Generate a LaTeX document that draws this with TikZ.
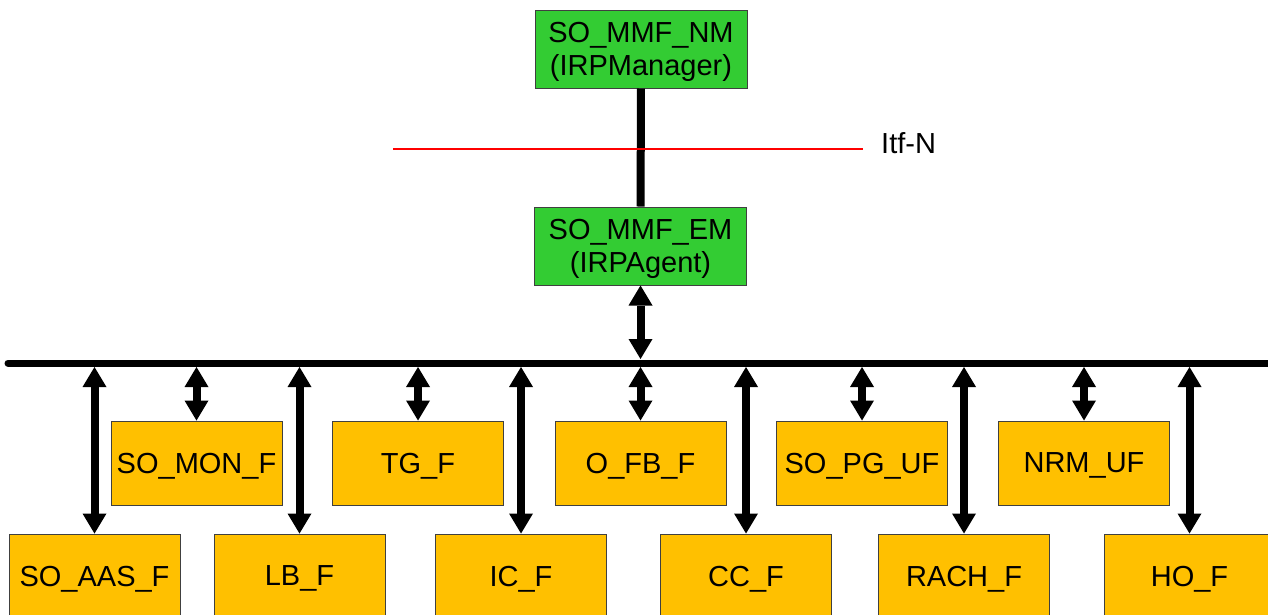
\documentclass[tikz,border=0pt]{standalone}
\usepackage{fontspec}
\setmainfont{Liberation Sans}
\usepackage{tikz}
\usetikzlibrary{arrows.meta, positioning}
\usepackage{xcolor}
\definecolor{irpgreen}{HTML}{33CC33}
\definecolor{funcorange}{HTML}{FFC000}

\begin{document}
\begin{tikzpicture}[x=1pt, y=-1pt, font=\fontsize{29}{33}\selectfont,
    irp/.style={rectangle, draw=black!75, line width=1pt, fill=irpgreen, minimum width=212pt, minimum height=78pt, inner sep=0pt, text depth=0pt, align=center},
    func/.style={rectangle, draw=black!75, line width=1pt, fill=funcorange, minimum width=171pt, minimum height=84pt, inner sep=0pt, text depth=0pt},
    tip/.tip={Triangle[length=20pt, width=24pt, line width=0pt]},
    biarrow/.style={line width=8pt, tip-tip}]
    \useasboundingbox (0,0) rectangle (1268,614);

    \node (NM) [irp] at (641,49) {SO\_MMF\_NM\\(IRPManager)};
    \node (EM) [irp] at (640.5,246) {SO\_MMF\_EM\\(IRPAgent)};
    \draw [line width=8pt] (NM) -- (EM);

    % Itf-N
    \coordinate (itfL) at (393,149);
    \coordinate (itfR) at (863,149);
    \draw [red, line width=2pt] (itfL) -- (itfR);
    \node (itf) [anchor=west, inner sep=0pt, text depth=0pt] at (881,143.5) {Itf-N};

    % bus
    \coordinate (busL) at (8,363);
    \coordinate (busR) at (1268,363);
    \coordinate (busT) at (640,359);
    \coordinate (busB) at (640,367);
    \draw [line width=7pt, line cap=round] (busL) -- (busR);
    \draw [biarrow] (EM.south) -- (EM.south |- busT);

    % upper row
    \node (MON) [func] at (196.5,463) {SO\_MON\_F};
    \node (TG) [func] at (418,463) {TG\_F};
    \node (OFB) [func] at (640.5,463) {O\_FB\_F};
    \node (PG) [func] at (862,463) {SO\_PG\_UF};
    \node (NRM) [func] at (1084,463) {NRM\_UF};

    % lower row
    \node (AAS) [func] at (94.5,576) {SO\_AAS\_F};
    \node (LB) [func] at (299.5,576) {LB\_F};
    \node (IC) [func] at (521,576) {IC\_F};
    \node (CC) [func] at (746,576) {CC\_F};
    \node (RACH) [func] at (964,576) {RACH\_F};
    \node (HO) [func] at (1189.5,576) {HO\_F};

    \draw [biarrow] (MON.north |- busB) -- (MON.north);
    \draw [biarrow] (TG.north |- busB) -- (TG.north);
    \draw [biarrow] (OFB.north |- busB) -- (OFB.north);
    \draw [biarrow] (PG.north |- busB) -- (PG.north);
    \draw [biarrow] (NRM.north |- busB) -- (NRM.north);

    \draw [biarrow] (AAS.north |- busB) -- (AAS.north);
    \draw [biarrow] (LB.north |- busB) -- (LB.north);
    \draw [biarrow] (IC.north |- busB) -- (IC.north);
    \draw [biarrow] (CC.north |- busB) -- (CC.north);
    \draw [biarrow] (RACH.north |- busB) -- (RACH.north);
    \draw [biarrow] (HO.north |- busB) -- (HO.north);
\end{tikzpicture}
\end{document}
